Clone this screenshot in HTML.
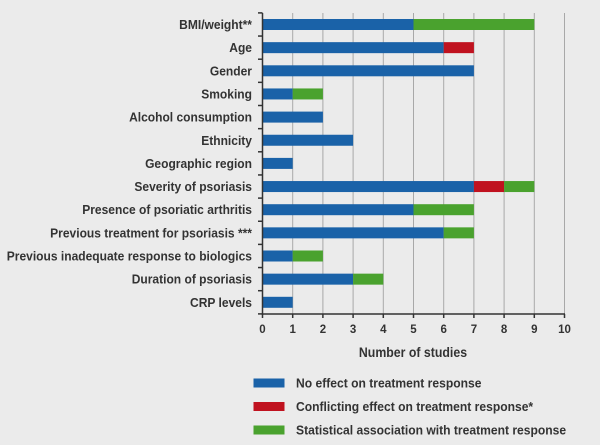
<!DOCTYPE html>
<html><head><meta charset="utf-8"><style>
body{margin:0;background:#ebebeb;}
svg{display:block;font-family:"Liberation Sans Narrow","Liberation Sans",sans-serif;font-weight:bold;}
</style></head><body>
<svg id="chart" width="600" height="445"></svg>
<script>
const categories=["BMI/weight**","Age","Gender","Smoking","Alcohol consumption","Ethnicity","Geographic region","Severity of psoriasis","Presence of psoriatic arthritis","Previous treatment for psoriasis ***","Previous inadequate response to biologics","Duration of psoriasis","CRP levels"];
const noEffect=[5,6,7,1,2,3,1,7,5,6,1,3,1];
const conflicting=[0,1,0,0,0,0,0,1,0,0,0,0,0];
const association=[4,0,0,1,0,0,0,1,2,1,1,1,0];
const ticks=[0,1,2,3,4,5,6,7,8,9,10];
const colors=["#1a62a8","#c0121f","#4aa22e"];
const legendLabels=["No effect on treatment response","Conflicting effect on treatment response*","Statistical association with treatment response"];
const NS="http://www.w3.org/2000/svg";
const svg=document.getElementById('chart');
const x=v=>262.5+v*30.2;
const y=i=>24.5+i*23.15;
function mk(t,a,txt){const e=document.createElementNS(NS,t);for(const k in a)e.setAttribute(k,a[k]);if(txt!==undefined)e.textContent=txt;svg.appendChild(e);return e;}
function squeeze(e,f){const w=e.getComputedTextLength();e.setAttribute('textLength',w*f);e.setAttribute('lengthAdjust','spacingAndGlyphs');}
ticks.forEach(t=>{
 if(t>0){const g=mk('line',{x1:x(t),x2:x(t),y1:13,y2:314,stroke:'#a8a8a8','stroke-width':1});
 
 }
 const tl=mk('text',{x:x(t),y:333,'text-anchor':'middle','font-size':11.5,fill:'#333'},t);
 
 
 mk('line',{x1:x(t),x2:x(t),y1:314,y2:318,stroke:'#333','stroke-width':1.5});
});
categories.forEach((c,i)=>{
 const series=[noEffect[i],conflicting[i],association[i]];let acc=0;
 series.forEach((v,s)=>{if(v>0){const r=mk('rect',{x:x(acc),y:y(i)-5.5,width:x(acc+v)-x(acc),height:11,fill:colors[s]});
 
 }acc+=v;});
 const l=mk('text',{x:252,y:y(i)+4.5,'text-anchor':'end','font-size':13,fill:'#333'},c);
 
 
 squeeze(l,0.925);
 mk('line',{x1:258,x2:262.5,y1:y(i)-11.6,y2:y(i)-11.6,stroke:'#333','stroke-width':1.5});
});
mk('line',{x1:258,x2:262.5,y1:y(12)+11.6,y2:y(12)+11.6,stroke:'#333','stroke-width':1.5});
mk('line',{x1:262.5,x2:262.5,y1:13,y2:315,stroke:'#333','stroke-width':1.5});
mk('line',{x1:262,x2:565,y1:314,y2:314,stroke:'#333','stroke-width':1.5});
const at=mk('text',{x:413,y:357,'text-anchor':'middle','font-size':14,fill:'#333'},'Number of studies');


squeeze(at,0.88);
legendLabels.forEach((t,i)=>{
 const ly=383+i*23.5;
 const s=mk('rect',{x:253.5,y:ly-4.5,width:31,height:9,fill:colors[i]});
 
 
 const lt=mk('text',{x:296,y:ly+4.5,'font-size':13,fill:'#333'},t);
 
 
 squeeze(lt,0.93);
});
</script>
</body></html>
